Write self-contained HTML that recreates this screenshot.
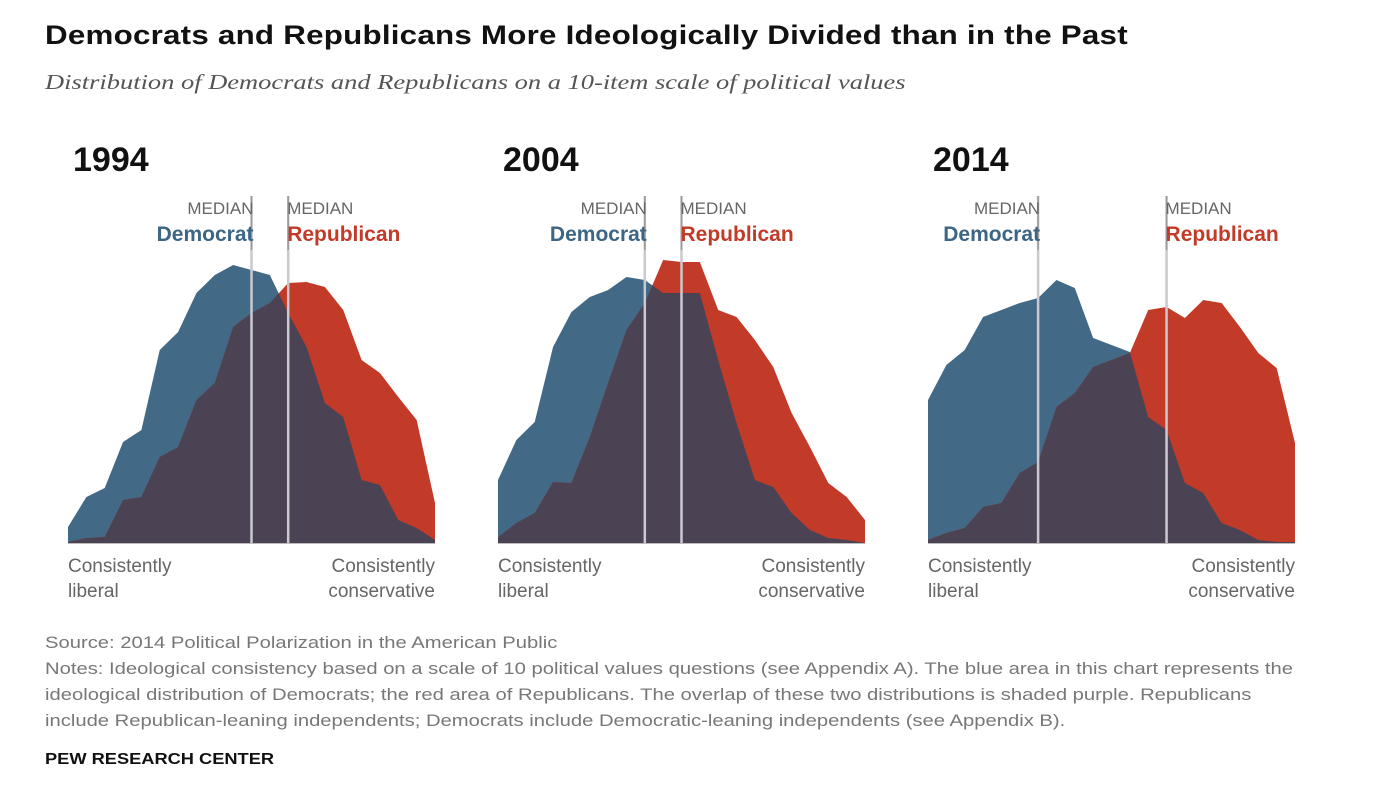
<!DOCTYPE html>
<html><head><meta charset="utf-8"><style>
body{margin:0;background:#fff;width:1376px;height:790px;overflow:hidden;font-family:"Liberation Sans",sans-serif;}
.t{position:absolute;white-space:nowrap;transform-origin:0 0;}
</style></head><body>
<div class="t" style="left:45px;top:20px;font-size:27px;font-weight:bold;color:#111;letter-spacing:0.2px;transform:scaleX(1.16)">Democrats and Republicans More Ideologically Divided than in the Past</div>
<div class="t" style="left:45px;top:70px;font-size:21px;font-style:italic;font-family:'Liberation Serif',serif;color:#555;transform:scaleX(1.26)">Distribution of Democrats and Republicans on a 10-item scale of political values</div>
<svg id="chart" width="1376" height="790" style="position:absolute;left:0;top:0"></svg>
<div class="t" style="left:45px;top:630px;font-size:16.5px;color:#777;line-height:26px;transform:scaleX(1.225)">Source: 2014 Political Polarization in the American Public<br>Notes: Ideological consistency based on a scale of 10 political values questions (see Appendix A). The blue area in this chart represents the<br>ideological distribution of Democrats; the red area of Republicans. The overlap of these two distributions is shaded purple. Republicans<br>include Republican-leaning independents; Democrats include Democratic-leaning independents (see Appendix B).</div>
<div class="t" style="left:45px;top:751px;font-size:16px;font-weight:bold;color:#111;transform:scaleX(1.14)">PEW RESEARCH CENTER</div>
<script>
const years=["1994","2004","2014"];
const dem1994=[16,46,55,101,113,193,211,250,268,278,273,268,230,196,140,126,63,58,23,15,3];
const rep1994=[1,5,6,43,46,86,96,143,160,216,230,240,260,261,256,233,183,170,146,123,40];
const dem2004=[63,103,121,196,231,246,253,266,263,250,250,250,183,120,63,56,30,13,5,3,0];
const rep2004=[6,20,30,61,60,106,160,213,240,283,281,281,233,226,203,176,130,96,60,46,23];
const dem2014=[143,178,193,226,233,240,245,263,255,205,198,191,126,113,60,50,20,13,3,1,1];
const rep2014=[3,10,15,36,40,70,81,136,150,176,183,190,233,236,225,243,240,216,190,175,100];
const demMedian=[10,8,6];
const repMedian=[12,10,13];
const panelLeft=[68,498,928];
const W=367,base=543,N=20;
const svg=document.getElementById('chart');
const NS='http://www.w3.org/2000/svg';
function mk(tag,attrs){const e=document.createElementNS(NS,tag);for(const k in attrs)e.setAttribute(k,attrs[k]);svg.appendChild(e);return e;}
function xs(p,i){return panelLeft[p]+i*W/N;}
function ys(v){return base-v;}
function poly(p,arr){let pts=[[xs(p,0),base]];arr.forEach((v,i)=>pts.push([xs(p,i),ys(v)]));pts.push([xs(p,N),base]);return pts.map(q=>q.join(',')).join(' ');}
function overlap(p,a,b){let pts=[[xs(p,0),base]];
 for(let i=0;i<=N;i++){pts.push([xs(p,i),ys(Math.min(a[i],b[i]))]);
  if(i<N){const d0=a[i]-b[i],d1=a[i+1]-b[i+1];if(d0*d1<0){const t=d0/(d0-d1);pts.push([xs(p,i+t),ys(a[i]+t*(a[i+1]-a[i]))]);}}}
 pts.push([xs(p,N),base]);return pts.map(q=>q.join(',')).join(' ');}
const dems=[dem1994,dem2004,dem2014],reps=[rep1994,rep2004,rep2014];
for(let p=0;p<3;p++){
 const d=mk('polygon',{points:poly(p,dems[p]),fill:'#426a87'});
 
 
 const r=mk('polygon',{points:poly(p,reps[p]),fill:'#c23b29'});
 
 
 const o=mk('polygon',{points:overlap(p,dems[p],reps[p]),fill:'#4b4254'});
 
 
 const ax=mk('line',{x1:panelLeft[p],x2:panelLeft[p]+W,y1:base+0.5,y2:base+0.5,stroke:'#bbb','stroke-width':1});
 
 
 [[demMedian[p],'democrat'],[repMedian[p],'republican']].forEach(([m,n])=>{
  const x=xs(p,m);
  const l=mk('line',{x1:x,x2:x,y1:196,y2:base,stroke:'#c9c9cf','stroke-width':2.5});
  
  
  const l2=mk('line',{x1:x,x2:x,y1:196,y2:250,stroke:'#999','stroke-width':1.5});
  
  
 });
 const yt=mk('text',{x:panelLeft[p]+5,y:171,'font-size':34,'font-weight':'bold',fill:'#111','font-family':'Liberation Sans Narrow, Liberation Sans, sans-serif'});
 yt.textContent=years[p];
 
 
 const dx=xs(p,demMedian[p])+2, rx=xs(p,repMedian[p])-1;
 [['MEDIAN',dx,214,'end',17,'normal','#666','median-label-dem'],['Democrat',dx,241,'end',21,'bold','#3d6584','democrat-label'],
  ['MEDIAN',rx,214,'start',17,'normal','#666','median-label-rep'],['Republican',rx,241,'start',21,'bold','#c23b29','republican-label'],
  ['Consistently',panelLeft[p],572,'start',19,'normal','#666','liberal-label-1'],['liberal',panelLeft[p],597,'start',19,'normal','#666','liberal-label-2'],
  ['Consistently',panelLeft[p]+W,572,'end',19,'normal','#666','conservative-label-1'],['conservative',panelLeft[p]+W,597,'end',19,'normal','#666','conservative-label-2']
 ].forEach(a=>{const t=mk('text',{x:a[1],y:a[2],'text-anchor':a[3],'font-size':a[4],'font-weight':a[5],fill:a[6],'font-family':'Liberation Sans, sans-serif'});t.textContent=a[0];
  
  });
}
</script>
</body></html>
